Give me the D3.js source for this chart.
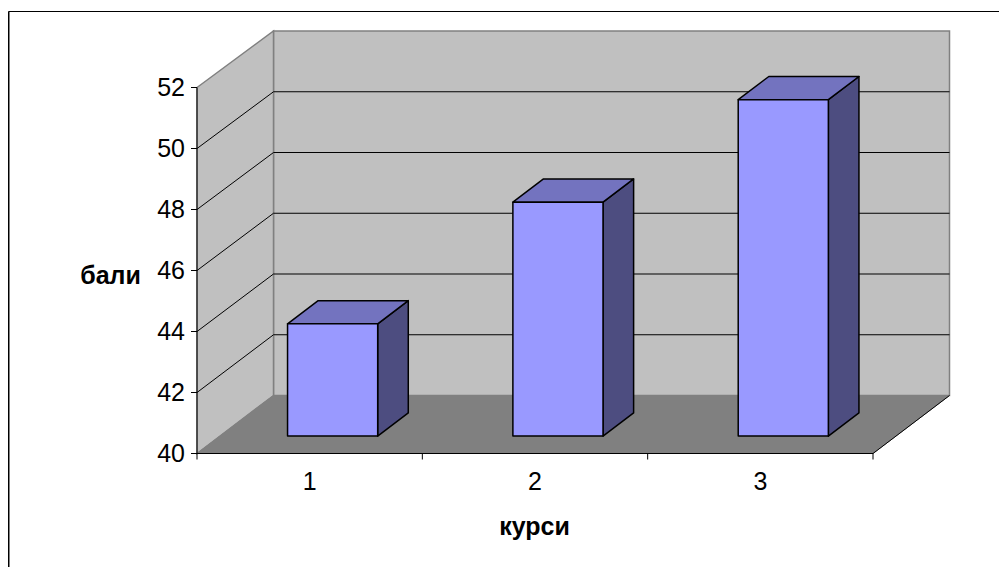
<!DOCTYPE html>
<html>
<head>
<meta charset="utf-8">
<script src="https://cdnjs.cloudflare.com/ajax/libs/d3/7.8.5/d3.min.js"></script>
<style>
html, body { margin: 0; padding: 0; background: #fff; }
svg { display: block; }
text { font-family: "Liberation Sans", Arial, sans-serif; fill: #000; }
</style>
</head>
<body>
<div id="chart"></div>
<script>
var categories = ["1", "2", "3"];
var values = [43.68, 47.67, 51.03];
var yTicks = [40, 42, 44, 46, 48, 50, 52];
var xTitle = "курси";
var yTitle = "бали";

var w = 999, h = 567;
var svg = d3.select("#chart").append("svg")
    .attr("width", w)
    .attr("height", h);

// chart frame, only top and left edges show
svg.append("path")
    .attr("d", "M8.5," + h + "V11.5H" + w)
    .attr("fill", "none").attr("stroke", "#000");
svg.append("line")
    .attr("x1", 9.5).attr("y1", 12).attr("x2", 9.5).attr("y2", h)
    .attr("stroke", "#808080");

var x = d3.scaleBand().domain(categories).range([197, 873]);
var y = d3.scaleLinear().domain([40, 52]).range([453.5, 87.5]);
// the back wall comes out slightly shorter than the front edge
var yBack = d3.scaleLinear().domain([40, 52]).range([395.5, 31]);

// depth of the box: 0 is the front of the floor, 1 is the back wall
var depthX = 76.5, depthY = 58;
function px(v, d) { return v + d * depthX; }
function py(v, d) { return v - d * depthY; }
function poly(pts) { return pts.map(function(p) { return p.join(","); }).join(" "); }

var x0 = x.range()[0], x1 = x.range()[1];
var yBot = y(40), yTop = y(52);
var bx0 = px(x0, 1), bx1 = px(x1, 1);

// back wall
svg.append("polygon")
    .attr("points", poly([[bx0, yBack(52)], [bx1, yBack(52)], [bx1, yBack(40)], [bx0, yBack(40)]]))
    .attr("fill", "#c0c0c0").attr("stroke", "#808080").attr("stroke-width", 1.5);
// side wall
svg.append("polygon")
    .attr("points", poly([[x0, yTop], [bx0, yBack(52)], [bx0, yBack(40)], [x0, yBot]]))
    .attr("fill", "#c0c0c0").attr("stroke", "#808080").attr("stroke-width", 1.5);
// floor
svg.append("polygon")
    .attr("points", poly([[x0, yBot], [bx0, yBack(40)], [bx1, yBack(40)], [x1, yBot]]))
    .attr("fill", "#808080").attr("stroke", "#808080");

// gridlines on both walls
var grid = yTicks.filter(function(t) { return t > 40 && t < 52; });
svg.selectAll(".grid")
    .data(grid)
    .enter().append("polyline")
    .attr("class", "grid")
    .attr("fill", "none")
    .attr("stroke", "#000")
    .attr("points", function(d) {
        return poly([[x0, y(d)], [bx0, yBack(d)], [bx1, yBack(d)]]);
    });

// axes lines
svg.append("line").attr("x1", x0).attr("y1", yTop).attr("x2", x0).attr("y2", yBot).attr("stroke", "#000");
svg.append("polyline")
    .attr("points", poly([[x0, yBot], [x1, yBot], [bx1, yBack(40)]]))
    .attr("fill", "none").attr("stroke", "#000");

// y ticks
svg.selectAll(".ytick")
    .data(yTicks)
    .enter().append("line")
    .attr("x1", x0 - 6).attr("x2", x0)
    .attr("y1", function(d) { return y(d); })
    .attr("y2", function(d) { return y(d); })
    .attr("stroke", "#000");
svg.selectAll(".ylabel")
    .data(yTicks)
    .enter().append("text")
    .attr("x", x0 - 12)
    .attr("y", function(d) { return y(d) + 8.5; })
    .attr("text-anchor", "end")
    .style("font-size", "25px")
    .text(function(d) { return d; });

// x ticks
svg.selectAll(".xtick")
    .data(x.domain().map(function(c) { return x(c); }).concat([x1]))
    .enter().append("line")
    .attr("x1", function(d) { return d; })
    .attr("x2", function(d) { return d; })
    .attr("y1", yBot).attr("y2", yBot + 6)
    .attr("stroke", "#000");
svg.selectAll(".xlabel")
    .data(categories)
    .enter().append("text")
    .attr("x", function(d) { return x(d) + x.bandwidth() / 2; })
    .attr("y", 490)
    .attr("text-anchor", "middle")
    .style("font-size", "25px")
    .text(function(d) { return d; });

// bars, front face sits 0.3 into the depth, back face 0.7
var barW = x.bandwidth() * 0.4;
var front = 0.3, back = 0.7;
var bars = svg.selectAll(".bar")
    .data(values)
    .enter().append("g")
    .attr("class", "bar")
    .attr("stroke", "#000")
    .attr("stroke-width", 1.5)
    .attr("stroke-linejoin", "round");

function barX(i) { return x(categories[i]) + x.bandwidth() * 0.3; }

bars.append("polygon") // side
    .attr("fill", "#4d4d80")
    .attr("points", function(d, i) {
        var l = barX(i) + barW;
        return poly([[px(l, front), py(y(d), front)], [px(l, back), py(y(d), back)],
                     [px(l, back), py(y(40), back)], [px(l, front), py(y(40), front)]]);
    });
bars.append("polygon") // top
    .attr("fill", "#7373bf")
    .attr("points", function(d, i) {
        var l = barX(i);
        return poly([[px(l, front), py(y(d), front)], [px(l, back), py(y(d), back)],
                     [px(l + barW, back), py(y(d), back)], [px(l + barW, front), py(y(d), front)]]);
    });
bars.append("polygon") // front
    .attr("fill", "#9999ff")
    .attr("points", function(d, i) {
        var l = barX(i);
        return poly([[px(l, front), py(y(d), front)], [px(l + barW, front), py(y(d), front)],
                     [px(l + barW, front), py(y(40), front)], [px(l, front), py(y(40), front)]]);
    });

// axis titles
svg.append("text")
    .attr("x", 534.5).attr("y", 535)
    .attr("text-anchor", "middle")
    .style("font-size", "25px").style("font-weight", "bold")
    .text(xTitle);
svg.append("text")
    .attr("x", 110.5).attr("y", 284)
    .attr("text-anchor", "middle")
    .style("font-size", "25px").style("font-weight", "bold")
    .text(yTitle);
</script>
</body>
</html>
